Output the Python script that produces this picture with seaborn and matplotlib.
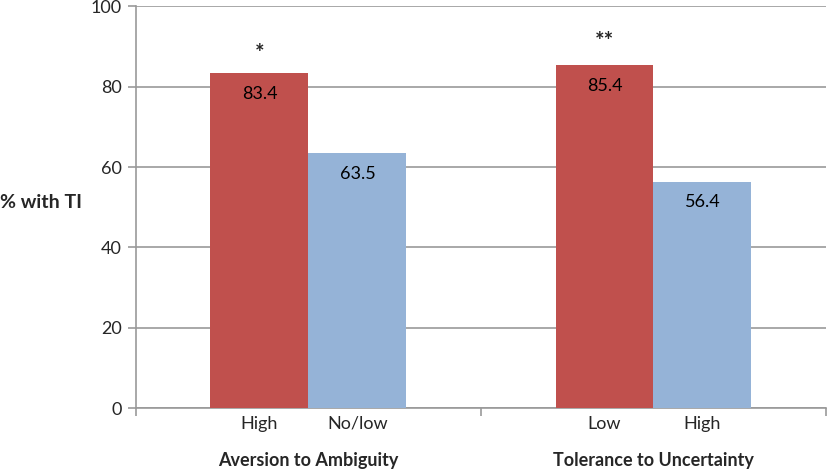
import matplotlib
matplotlib.use("Agg")
import matplotlib.pyplot as plt
import seaborn as sns
import pandas as pd

groups = ["Aversion to Ambiguity", "Tolerance to Uncertainty"]
sub_labels = [["High", "No/low"], ["Low", "High"]]
first_values = [83.4, 85.4]
second_values = [63.5, 56.4]
stars = ["*", "**"]
yticks = [0, 20, 40, 60, 80, 100]

rows = []
for g, subs, v1, v2 in zip(groups, sub_labels, first_values, second_values):
    rows.append({"group": g, "pos": "first", "sub": subs[0], "value": v1})
    rows.append({"group": g, "pos": "second", "sub": subs[1], "value": v2})
df = pd.DataFrame(rows)

sns.set_style("white")
plt.rcParams["font.family"] = ["Lato", "DejaVu Sans"]

fig = plt.figure(figsize=(8.27, 4.70), dpi=100)
ax = fig.add_axes([0.1644, 0.1319, 0.8344, 0.8543])

grid_c = "#999999"
fs = 13
sns.barplot(data=df, x="group", y="value", hue="pos", order=groups,
            hue_order=["first", "second"],
            palette={"first": "#C0504D", "second": "#95B3D7"},
            width=0.568, gap=0, saturation=1, legend=False, ax=ax,
            linewidth=0, zorder=3)

ax.set_ylim(0, 100)
ax.set_xlim(-0.5, 1.5)
ax.set_yticks(yticks)
ax.set_yticklabels([str(t) for t in yticks], fontsize=fs)
ax.yaxis.grid(True, color=grid_c, linewidth=1.2, zorder=0)
ax.set_axisbelow(True)
ax.tick_params(axis="y", length=6, width=1.2, color=grid_c, left=True, pad=4)

ax.set_xticks([-0.5, 0.5, 1.5])
ax.set_xticklabels([])
ax.tick_params(axis="x", length=6, width=1.2, color=grid_c, bottom=True, direction="out")
ax.set_xlabel("")
ax.set_ylabel("")

for s in ["top", "right"]:
    ax.spines[s].set_visible(False)
for s in ["left", "bottom"]:
    ax.spines[s].set_color(grid_c)
    ax.spines[s].set_linewidth(1.2)

patches = sorted(ax.patches, key=lambda p: p.get_x())
for p in patches:
    h = p.get_height()
    cx = p.get_x() + p.get_width() / 2
    ax.text(cx, h - 5.2, f"{h:.1f}", ha="center", va="center", fontsize=fs, color="black", zorder=5)

flat_subs = [s for subs in sub_labels for s in subs]
for p, lab in zip(patches, flat_subs):
    cx = p.get_x() + p.get_width() / 2
    ax.annotate(lab, xy=(cx, 0), xycoords=("data", "axes fraction"),
                xytext=(0, -11.5), textcoords="offset points",
                ha="center", va="center", fontsize=fs)

red_patches = [patches[0], patches[2]]
star_y = [88.2, 91.3]
for p, st, y in zip(red_patches, stars, star_y):
    cx = p.get_x() + p.get_width() / 2
    ax.text(cx, y, st, ha="center", va="center", fontsize=16, fontweight="bold")

for i, g in enumerate(groups):
    ax.annotate(g, xy=(i, 0), xycoords=("data", "axes fraction"),
                xytext=(0, -38), textcoords="offset points",
                ha="center", va="center", fontsize=fs, fontweight="bold")

fig.text(0.0, 1 - 202 / 470, "% with TI", ha="left", va="center", fontsize=14, fontweight="bold")

fig.savefig("out.png", dpi=100)
